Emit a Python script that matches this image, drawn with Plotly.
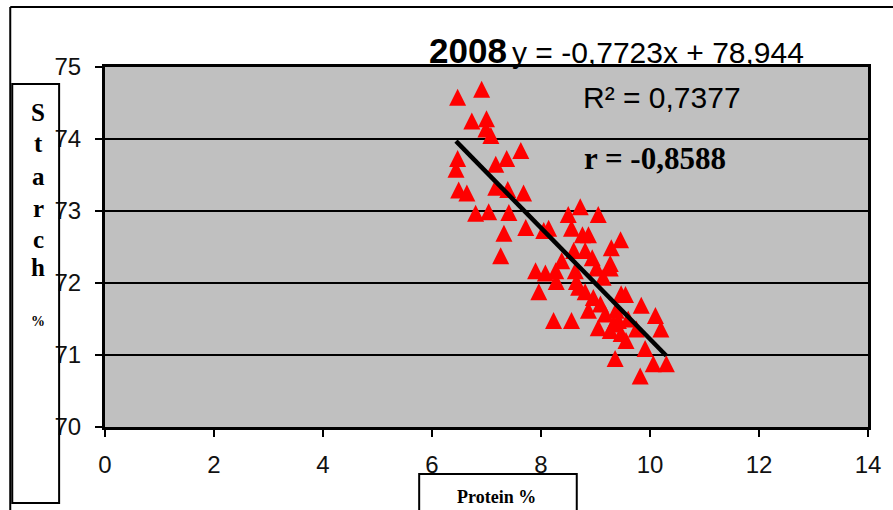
import plotly.graph_objects as go

# ---- data ----
protein = [6.47, 6.91, 6.73, 7.00, 6.99, 7.08, 7.63, 7.37, 7.17, 6.47,
           6.44, 6.49, 6.64, 7.17, 7.39, 7.68, 6.80, 7.04, 7.41, 7.72,
           7.32, 7.26, 8.14, 8.50, 8.72, 9.05, 8.56, 8.76, 8.87, 9.46,
           9.29, 8.81, 8.94, 9.27, 7.90, 8.08, 8.27, 8.28, 8.63, 8.65,
           9.14, 7.96, 9.47, 8.81, 9.02, 9.27, 8.69, 8.96, 9.09, 9.55,
           9.84, 10.10, 10.20, 8.56, 8.23, 9.05, 9.33, 9.47, 9.75, 9.91,
           9.36, 9.82, 10.06, 10.30, 9.18, 9.38, 9.60, 9.27, 9.56, 8.87,
           9.42, 8.38, 8.60, 8.05]
starch = [74.58, 74.69, 74.25, 74.28, 74.14, 74.05, 73.84, 73.73, 73.65, 73.73,
          73.58, 73.29, 73.25, 73.33, 73.30, 73.25, 72.97, 72.99, 72.98, 72.77,
          72.69, 72.38, 72.76, 72.95, 73.06, 72.95, 72.76, 72.67, 72.67, 72.60,
          72.49, 72.45, 72.35, 72.27, 72.17, 72.14, 72.17, 72.02, 72.17, 72.02,
          72.08, 71.88, 71.85, 71.88, 72.21, 72.21, 71.94, 71.80, 71.71, 71.84,
          71.69, 71.55, 71.36, 71.48, 71.48, 71.38, 71.43, 71.30, 71.36, 71.09,
          70.95, 70.71, 70.88, 70.88, 71.57, 71.62, 71.50, 71.34, 71.20, 71.62,
          71.48, 72.31, 72.45, 72.73]
slope = -0.7723
intercept = 78.944
x_ticks = [0, 2, 4, 6, 8, 10, 12, 14]
y_ticks = [70, 71, 72, 73, 74, 75]
y_label_letters = ["S", "t", "a", "r", "c", "h"]

# ---- layout geometry ----
W, H = 893, 510
L, R, T, B = 105, 23, 67, 83
pw = W - L - R
ph = H - T - B


def fx(p):
    return (p - L) / pw


def fy(p):
    return (H - B - p) / ph


x_line = [min(protein), max(protein)]
y_line = [slope * v + intercept for v in x_line]

fig = go.Figure()
fig.add_trace(go.Scatter(
    x=protein, y=starch, mode="markers",
    marker=dict(symbol="arrow-down", angle=180, standoff=8.5, size=17,
                color="#FF0000", line=dict(width=0)),
    showlegend=False, hoverinfo="skip"))
fig.add_trace(go.Scatter(
    x=x_line, y=y_line, mode="lines",
    line=dict(color="black", width=4.5), showlegend=False, hoverinfo="skip"))

tick_font = dict(family="Liberation Sans Narrow, Arial Narrow, Liberation Sans, Arial, sans-serif",
                 size=24, color="#111111")

fig.update_xaxes(range=[0, 14], tickvals=x_ticks, ticktext=[str(v) for v in x_ticks],
                 showgrid=False, zeroline=False, showline=True, mirror=True,
                 linecolor="black", linewidth=3, ticks="outside", ticklen=7,
                 tickwidth=1.5, tickcolor="black", tickfont=tick_font,
                 ticklabelstandoff=7)
fig.update_yaxes(range=[70, 75], tickvals=y_ticks, ticktext=[str(v) for v in y_ticks],
                 showgrid=True, gridcolor="black", gridwidth=1.5, zeroline=False,
                 showline=True, mirror=True, linecolor="black", linewidth=3,
                 ticks="outside", ticklen=7, tickwidth=1.5, tickcolor="black",
                 tickfont=tick_font, ticklabelstandoff=9)

annotations = []
sans = "Liberation Sans, Arial, sans-serif"
serif = "Liberation Serif, Times New Roman, serif"
annotations.append(dict(text="<b>2008</b>", x=fx(510), y=fy(51), xanchor="right", yanchor="middle",
                        font=dict(family="Liberation Sans Narrow, Arial Narrow, Liberation Sans, sans-serif",
                                  size=35, color="black")))
annotations.append(dict(text="y = -0,7723x + 78,944", x=fx(511), y=fy(53), xanchor="left",
                        yanchor="middle", font=dict(family=sans, size=30, color="black")))
annotations.append(dict(text="R² = 0,7377", x=fx(582), y=fy(97), xanchor="left",
                        yanchor="middle", font=dict(family=sans, size=30, color="black")))
annotations.append(dict(text="<b>r = -0,8588</b>", x=fx(583), y=fy(158), xanchor="left",
                        yanchor="middle", font=dict(family=serif, size=31, color="black")))
annotations.append(dict(text="<b>Protein %</b>", x=fx(498), y=fy(497), xanchor="center",
                        yanchor="middle", font=dict(family=serif, size=18, color="black")))
letter_y = [112, 143, 176, 208, 240, 267]
for ch, yy in zip(y_label_letters, letter_y):
    annotations.append(dict(text="<b>%s</b>" % ch, x=fx(38), y=fy(yy), xanchor="center",
                            yanchor="middle", font=dict(family=serif, size=25, color="black")))
annotations.append(dict(text="<b>%</b>", x=fx(38), y=fy(321), xanchor="center",
                        yanchor="middle", font=dict(family=serif, size=14, color="black")))
for a in annotations:
    a.update(xref="paper", yref="paper", showarrow=False)

shapes = [
    dict(type="rect", x0=fx(12), x1=fx(59), y0=fy(84), y1=fy(503)),
    dict(type="rect", x0=fx(420), x1=fx(578), y0=fy(474), y1=fy(520)),
    dict(type="line", x0=fx(10), x1=fx(900), y0=fy(7), y1=fy(7)),
    dict(type="line", x0=fx(10), x1=fx(10), y0=fy(7), y1=fy(520)),
]
for s in shapes:
    s.update(xref="paper", yref="paper", line=dict(color="black", width=2), layer="above")

fig.update_layout(
    width=W, height=H,
    margin=dict(l=L, r=R, t=T, b=B, pad=0),
    paper_bgcolor="white", plot_bgcolor="#C0C0C0",
    annotations=annotations, shapes=shapes,
)

fig.write_html("out.html", config={"displayModeBar": False},
               post_script="document.body.style.margin='0';document.body.style.overflow='hidden';")
